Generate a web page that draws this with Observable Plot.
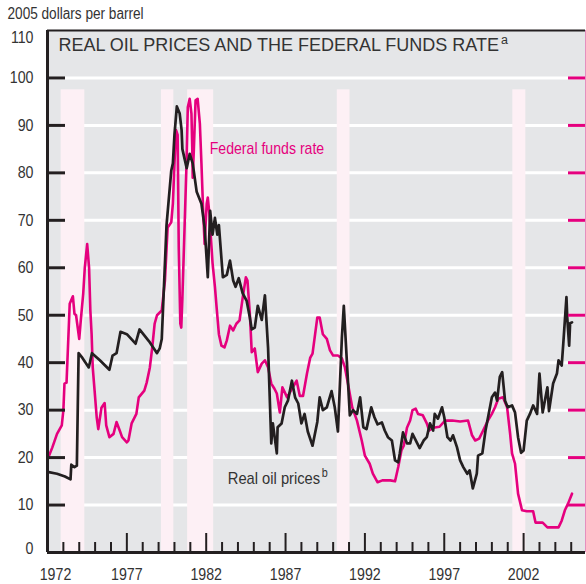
<!DOCTYPE html>
<html><head><meta charset="utf-8">
<script src="https://cdn.jsdelivr.net/npm/d3@7"></script>
<script src="https://cdn.jsdelivr.net/npm/@observablehq/plot@0.6"></script>
<style>body{margin:0;background:#fff}</style>
</head><body><div id="chart"></div>
<script>
// Real oil prices, 2005 dollars per barrel
const oilYears = [1972.0,1972.6,1973.1,1973.45,1973.5,1973.7,1973.85,1973.96,1974.2,1974.6,1974.8,1975.3,1975.9,1976.1,1976.35,1976.6,1977.0,1977.55,1977.8,1978.4,1978.9,1979.07,1979.2,1979.5,1979.63,1979.8,1979.9,1980.0,1980.15,1980.33,1980.45,1980.5,1980.77,1980.96,1981.15,1981.4,1981.7,1981.9,1982.1,1982.25,1982.4,1982.55,1982.7,1982.8,1983.05,1983.3,1983.5,1983.7,1983.85,1984.05,1984.3,1984.55,1984.75,1984.87,1985.06,1985.25,1985.5,1985.7,1985.9,1986.1,1986.2,1986.45,1986.5,1986.75,1986.95,1987.15,1987.4,1987.6,1987.8,1988.0,1988.2,1988.4,1988.7,1989.0,1989.15,1989.35,1989.6,1989.9,1990.1,1990.3,1990.55,1990.67,1990.86,1991.05,1991.25,1991.5,1991.7,1991.9,1992.1,1992.4,1992.6,1992.8,1993.07,1993.25,1993.45,1993.7,1993.9,1994.1,1994.2,1994.4,1994.65,1994.85,1995.0,1995.3,1995.45,1995.7,1995.9,1996.1,1996.3,1996.4,1996.6,1996.86,1997.0,1997.2,1997.4,1997.55,1997.8,1998.0,1998.2,1998.45,1998.6,1998.8,1999.05,1999.13,1999.4,1999.6,1999.76,2000.0,2000.2,2000.33,2000.5,2000.65,2000.83,2001.0,2001.27,2001.46,2001.65,2001.84,2002.0,2002.2,2002.4,2002.6,2002.85,2003.0,2003.2,2003.5,2003.6,2003.86,2004.1,2004.2,2004.4,2004.5,2004.7,2004.75,2004.87,2004.93,2005.05];
const oilPrices = [17.0,16.6,16.0,15.4,18.5,18.0,18.3,42.0,41.0,39.0,42.0,40.5,38.5,41.5,42.0,46.5,46.0,44.0,47.0,44.5,42.0,43.0,45.0,69.0,74.0,80.5,82.0,88.0,94.0,92.5,89.0,85.0,81.0,84.0,82.0,76.0,73.5,68.5,58.0,72.0,67.0,70.5,67.0,69.0,58.0,58.5,61.5,57.3,56.0,57.8,54.6,53.0,49.5,47.0,47.4,52.0,49.0,54.2,43.0,23.0,27.2,20.9,26.4,27.2,30.6,32.0,36.2,32.7,31.4,27.2,29.2,25.5,22.5,27.5,32.7,30.0,30.6,34.0,30.6,25.5,45.3,52.0,40.5,28.9,30.0,29.2,32.7,26.4,26.0,30.6,28.5,27.0,27.4,25.7,24.3,23.6,19.4,19.0,20.9,25.3,23.0,23.0,25.0,23.0,22.0,23.6,24.3,27.2,25.7,29.2,28.2,30.6,28.5,24.3,23.6,24.7,22.2,19.4,18.0,16.6,17.3,13.5,16.6,20.4,20.9,25.7,28.5,32.7,33.7,32.0,37.0,38.0,32.0,30.6,31.0,29.5,24.3,21.0,21.5,27.8,29.2,31.0,29.2,37.7,29.5,34.8,29.8,35.6,37.7,40.5,39.4,44.0,53.8,49.5,43.6,48.3,48.5];

// Federal funds rate, percent (drawn on the right-hand scale: 2 percent per gridline)
const fedYears = [1972.05,1972.3,1972.6,1972.9,1973.0,1973.07,1973.2,1973.4,1973.6,1973.7,1973.8,1974.0,1974.1,1974.25,1974.35,1974.5,1974.62,1974.7,1974.78,1974.85,1974.97,1975.1,1975.2,1975.4,1975.6,1975.7,1975.9,1976.16,1976.35,1976.55,1976.7,1977.0,1977.1,1977.3,1977.6,1977.75,1978.1,1978.25,1978.45,1978.6,1978.75,1978.9,1979.2,1979.4,1979.57,1979.8,1979.9,1980.0,1980.1,1980.2,1980.27,1980.37,1980.43,1980.5,1980.63,1980.76,1980.84,1980.96,1981.07,1981.12,1981.15,1981.22,1981.33,1981.46,1981.6,1981.7,1981.8,1981.9,1982.03,1982.1,1982.2,1982.4,1982.55,1982.66,1982.8,1982.96,1983.15,1983.3,1983.5,1983.7,1983.9,1984.1,1984.3,1984.5,1984.6,1984.75,1984.87,1985.06,1985.25,1985.5,1985.7,1985.9,1986.1,1986.3,1986.45,1986.64,1986.8,1987.1,1987.4,1987.7,1987.9,1988.1,1988.35,1988.55,1988.7,1989.0,1989.15,1989.35,1989.6,1989.8,1990.0,1990.3,1990.55,1990.74,1990.93,1991.2,1991.5,1991.8,1992.0,1992.3,1992.5,1992.8,1993.1,1993.6,1993.9,1994.1,1994.3,1994.45,1994.65,1994.85,1995.0,1995.2,1995.35,1995.65,1995.9,1996.05,1996.3,1996.7,1997.05,1997.5,1998.0,1998.5,1998.75,1998.95,1999.2,1999.45,1999.75,2000.0,2000.2,2000.4,2000.7,2000.96,2001.15,2001.27,2001.46,2001.65,2001.9,2002.2,2002.6,2002.75,2003.2,2003.5,2004.2,2004.4,2004.6,2004.8,2005.05];
const fedRates = [4.0,4.42,5.0,5.36,6.0,7.12,7.16,10.48,10.8,10.06,10.0,9.0,9.8,10.9,12.0,13.0,12.0,10.2,9.2,7.8,6.8,5.7,5.2,6.1,6.3,5.36,4.86,5.0,5.5,5.14,4.86,4.64,4.72,5.44,5.84,6.54,6.82,7.16,7.8,8.64,9.64,10.0,10.2,11.46,13.7,13.92,14.7,16.4,17.8,17.6,12.86,9.64,9.48,10.74,13.56,16.4,18.76,19.12,18.5,17.08,15.8,16.94,19.06,19.12,18.08,16.4,14.54,13.0,14.7,14.96,14.28,12.2,11.2,10.3,9.2,8.72,8.64,8.94,9.56,9.36,9.64,9.78,10.74,11.6,11.46,10.06,8.44,8.6,7.6,7.96,8.1,7.8,7.12,6.9,6.7,5.9,6.96,6.54,6.9,7.24,6.6,6.6,7.54,8.2,8.38,9.9,9.9,9.2,9.0,8.52,8.3,8.3,8.18,7.8,7.12,6.12,5.56,4.72,4.08,3.74,3.32,2.96,3.04,3.04,3.0,3.6,4.3,4.5,5.26,5.56,6.0,6.06,5.84,5.78,5.44,5.14,5.26,5.3,5.56,5.56,5.52,5.56,4.94,4.72,4.8,5.14,5.56,5.84,6.12,6.48,6.54,6.12,5.0,4.18,3.74,2.48,1.78,1.74,1.74,1.26,1.26,1.06,1.06,1.34,1.78,2.06,2.48];
const FED_TO_LEFT = 5; // one percent on the right scale = 5 dollars on the left scale

// Recession periods (shaded)
const recessionStart = [1972.86, 1979.18, 1980.83, 1990.26, 2001.32];
const recessionEnd   = [1974.35, 1979.96, 1982.47, 1991.06, 2002.14];

// Axis ticks and labels
const yLabels = [0,10,20,30,40,50,60,70,80,90,100,110];
const gridValues = [10,20,30,40,50,60,70,80,90,100];
const xLabelYears = [1972,1977,1982,1987,1992,1997,2002];
const majorTickYears = [1977,1982,1987,1992,1997,2002];
const minorTickYears = [1973,1974,1975,1976,1978,1979,1980,1981,1983,1984,1985,1986,1988,1989,1990,1991,1993,1994,1995,1996,1998,1999,2000,2001,2003,2004,2005];
const xDomain = [1972, 2005.9];
const yDomain = [0, 110];

const oil = oilYears.map((t, i) => ({t, v: oilPrices[i]}));
const fed = fedYears.map((t, i) => ({t, r: fedRates[i]}));
const recessions = recessionStart.map((s, i) => ({s, e: recessionEnd[i]}));

const W = 586, H = 584, mL = 47, mR = 1, mT = 30, mB = 32;
const plotW = W - mL - mR, plotH = H - mT - mB;
const BG = "#e5e6e8", REC = "#fdf0f5", PINK = "#e5007e", DARK = "#231f20", TXT = "#333333";
const FONT = "'Liberation Sans', Arial, sans-serif";

const chart = Plot.plot({
  width: W, height: H,
  marginLeft: mL, marginRight: mR, marginTop: mT, marginBottom: mB,
  x: {domain: xDomain, label: null},
  y: {domain: yDomain, label: null},
  style: {fontFamily: FONT, fontSize: "16.5px", color: TXT, background: "white", overflow: "visible"},
  marks: [
    Plot.frame({fill: BG, stroke: null}),
    Plot.ruleY(gridValues, {stroke: "white", strokeWidth: 3}),
    Plot.rectY(recessions, {x1: "s", x2: "e", y1: 0, y2: 97.5, fill: REC}),
    Plot.line(fed, {x: "t", y: d => d.r * FED_TO_LEFT, stroke: PINK, strokeWidth: 2.6, strokeLinejoin: "round"}),
    Plot.line(oil, {x: "t", y: "v", stroke: DARK, strokeWidth: 2.7, strokeLinejoin: "round"}),
    Plot.tickY(gridValues, {stroke: DARK, strokeWidth: 3, insetRight: plotW - 18}),
    Plot.tickY(gridValues, {stroke: PINK, strokeWidth: 3, insetLeft: plotW - 17}),
    Plot.tickX(minorTickYears, {stroke: DARK, strokeWidth: 2, insetTop: plotH - 10}),
    Plot.tickX(majorTickYears, {stroke: DARK, strokeWidth: 2, insetTop: plotH - 19}),
    Plot.ruleX([xDomain[1]], {stroke: "#e58fbf", strokeWidth: 1}),
    Plot.ruleY([yDomain[1]], {stroke: DARK, strokeWidth: 2}),
    Plot.ruleY([yDomain[0]], {stroke: DARK, strokeWidth: 3}),
    Plot.ruleX([xDomain[0]], {stroke: DARK, strokeWidth: 3}),
    Plot.axisY(yLabels.slice(1, 11), {tickSize: 0, tickPadding: 14, label: null}),
    Plot.axisY([yLabels[11]], {tickSize: 0, tickPadding: 14, dy: 7, label: null}),
    Plot.axisY([yLabels[0]], {tickSize: 0, tickPadding: 14, dy: -4, label: null}),
    Plot.axisX(xLabelYears.slice(1), {tickSize: 0, tickPadding: 16, tickFormat: d => String(d), label: null}),
    Plot.axisX([xLabelYears[0]], {tickSize: 0, tickPadding: 16, dx: 8, tickFormat: d => String(d), label: null}),
    Plot.text(["2005 dollars per barrel"], {frameAnchor: "top-left", textAnchor: "start", lineAnchor: "bottom", dx: -40, dy: -12, fontSize: 16, fill: TXT}),
    Plot.text(["REAL OIL PRICES AND THE FEDERAL FUNDS RATE"], {frameAnchor: "top-left", textAnchor: "start", lineAnchor: "bottom", dx: 11, dy: 20, fontSize: 18, fill: TXT}),
    Plot.text(["Federal funds rate"], {x: 1982.22, y: 85.2, textAnchor: "start", fontSize: 17, fill: PINK}),
    Plot.text(["Real oil prices"], {x: 1983.36, y: 15.5, textAnchor: "start", fontSize: 17, fill: TXT})
  ]
});

document.getElementById("chart").append(chart);

// superscript footnote markers
d3.select(chart).selectAll("text").each(function() {
  const t = this.textContent;
  if (t === "REAL OIL PRICES AND THE FEDERAL FUNDS RATE" || t === "Real oil prices") {
    d3.select(this).append("tspan").attr("font-size", 12.5).attr("dx", 2).attr("dy", -7)
      .text(t === "Real oil prices" ? "b" : "a");
  }
});

// emulate the condensed face of the original: narrow every text except the title
const narrowBy = {"2005 dollars per barrel": 0.85, "Federal funds rate": 0.83, "Real oil pricesb": 0.88};
d3.select(chart).selectAll("text").each(function() {
  const t = this.textContent;
  if (t.startsWith("REAL OIL")) return;
  const k = narrowBy[t] ?? 0.86;
  const len = this.getComputedTextLength();
  if (len > 0) {
    this.setAttribute("textLength", (len * k).toFixed(1));
    this.setAttribute("lengthAdjust", "spacingAndGlyphs");
  }
});
</script>
</body></html>
